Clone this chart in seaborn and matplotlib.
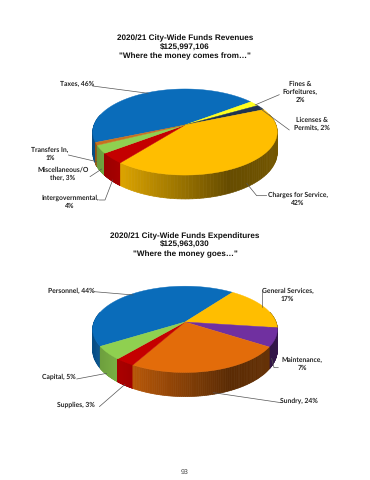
import numpy as np
import matplotlib
matplotlib.use("Agg")
import matplotlib.pyplot as plt
import seaborn as sns

sns.set_theme(style="white")
plt.rcParams['font.family'] = ['Liberation Sans', 'DejaVu Sans']
plt.rcParams['text.hinting'] = 'none'

rev_names = ["Taxes", "Fines & Forfeitures", "Licenses & Permits", "Charges for Service",
             "Intergovernmental", "Miscellaneous/Other", "Transfers In"]
rev_values = [46, 2, 2, 42, 4, 3, 1]
rev_colors = ["#0A6CBA", "#FFFF1E", "#1F3350", "#FFBE00", "#C40000", "#8FD050", "#C8701E"]

exp_names = ["Personnel", "General Services", "Maintenance", "Sundry", "Supplies", "Capital"]
exp_values = [44, 17, 7, 24, 3, 5]
exp_colors = ["#0A6CBA", "#FFBE00", "#7030A0", "#E36C0A", "#C40000", "#8FD050"]

rev_title = '2020/21 City-Wide Funds Revenues\n$125,997,106\n"Where the money comes from…"'
exp_title = '2020/21 City-Wide Funds Expenditures\n$125,963,030\n"Where the money goes…"'
page_number = "93"

fig = plt.figure(figsize=(3.7, 4.8), dpi=100)
ax = fig.add_axes([0, 0, 1, 1])


def draw_pie(values, colors, start, cx, cy, rx, hy, k, depth):
    def project(theta, r=1.0):
        u, v = r * np.cos(theta), r * np.sin(theta)
        f = 1 / (1 + k * v)
        return cx + rx * u * f, cy - hy * v * f

    wedges, _ = ax.pie(values, colors=sns.color_palette(colors), startangle=start,
                       counterclock=False, frame=False)
    arcs = []
    for w, col in zip(wedges, colors):
        arcs.append((np.radians(np.linspace(w.theta1, w.theta2, 80)), col))
        w.remove()

    # side wall
    strips = []
    for th, col in arcs:
        for a, b in zip(th[:-1], th[1:]):
            strips.append((a, b, col))
    strips.sort(key=lambda s: -np.sin((s[0] + s[1]) / 2))
    for a, b, col in strips:
        m = (a + b) / 2
        if np.sin(m) > 0.25:
            continue
        u = np.cos(m)
        shade = np.interp(u, [-1, -0.6, -0.2, 0.4, 1], [0.70, 0.86, 0.68, 0.40, 0.46])
        rgb = np.array(matplotlib.colors.to_rgb(col)) * shade
        xa, ya = project(a)
        xb, yb = project(b)
        da = depth / (1 + k * np.sin(a))
        db = depth / (1 + k * np.sin(b))
        ax.fill([xa, xb, xb, xa], [ya, yb, yb + db, ya + da], color=rgb, lw=0.5, zorder=2)

    # top faces
    for th, col in arcs:
        x, y = project(th)
        ax.fill(np.r_[cx, x], np.r_[cy, y], color=col, lw=0.3, zorder=3)


# layout, in zoomed pixel coordinates of each band
def z1(p):
    return p[0] / 3, p[1] / 3 + 20


def z2(p):
    return p[0] / 3, p[1] / 3 + 225


rev_lines = [[(278, 198), (445, 220)], [(838, 224), (765, 255)], [(780, 265), (868, 330)],
             [(205, 405), (290, 425)], [(270, 470), (305, 447)],
             [(298, 540), (315, 540), (338, 480)], [(800, 527), (770, 527), (740, 490)]]
rev_texts = [("Taxes, 46%", 230, 193), ("Fines &\nForfeitures,\n2%", 900, 215),
             ("Licenses &\nPermits, 2%", 937, 312), ("Transfers In,\n1%", 150, 403),
             ("Miscellaneous/O\nther, 3%", 188, 461), ("Intergovernmental,\n4%", 210, 546),
             ("Charges for Service,\n42%", 893, 537)]
exp_lines = [[(282, 200), (400, 210)], [(787, 195), (787, 245)],
             [(835, 428), (822, 428), (815, 400)], [(843, 533), (640, 503)],
             [(230, 462), (320, 445)], [(298, 545), (375, 478)]]
exp_texts = [("Personnel, 44%", 213, 197), ("General Services,\n17%", 863, 210),
             ("Maintenance,\n7%", 907, 417), ("Sundry, 24%", 898, 527),
             ("Capital, 5%", 178, 456), ("Supplies, 3%", 228, 538)]

draw_pie(rev_values, rev_colors, 203, 185, 125, 91, 41.9, 0.163, 20)
draw_pie(exp_values, exp_colors, 212, 185, 322, 91, 41.9, 0.17, 20)

for lines, texts, zf in ((rev_lines, rev_texts, z1), (exp_lines, exp_texts, z2)):
    for pts in lines:
        xy = np.array([zf(p) for p in pts])
        ax.plot(xy[:, 0], xy[:, 1], color="#555555", lw=0.5, zorder=4)
    for s, zx, zy in texts:
        x, y = zf((zx, zy))
        ax.text(x, y, s, family=['Lato', 'DejaVu Sans'], fontweight="bold", fontsize=4.9,
                ha="center", va="center", linespacing=1.3, color="#222222", zorder=5)

ax.text(185, 47.5, rev_title, ha="center", va="center", fontweight="bold", fontsize=5.9,
        linespacing=1.3, color="#111111")
ax.text(185, 245, exp_title, ha="center", va="center", fontweight="bold", fontsize=5.9,
        linespacing=1.3, color="#111111")
ax.text(185, 472, page_number, ha="center", va="center", fontsize=5, color="#444444")

ax.set_xlim(0, 370)
ax.set_ylim(480, 0)
ax.set_aspect("auto")
ax.set_axis_off()
fig.savefig("out.png", dpi=100, facecolor="white")
